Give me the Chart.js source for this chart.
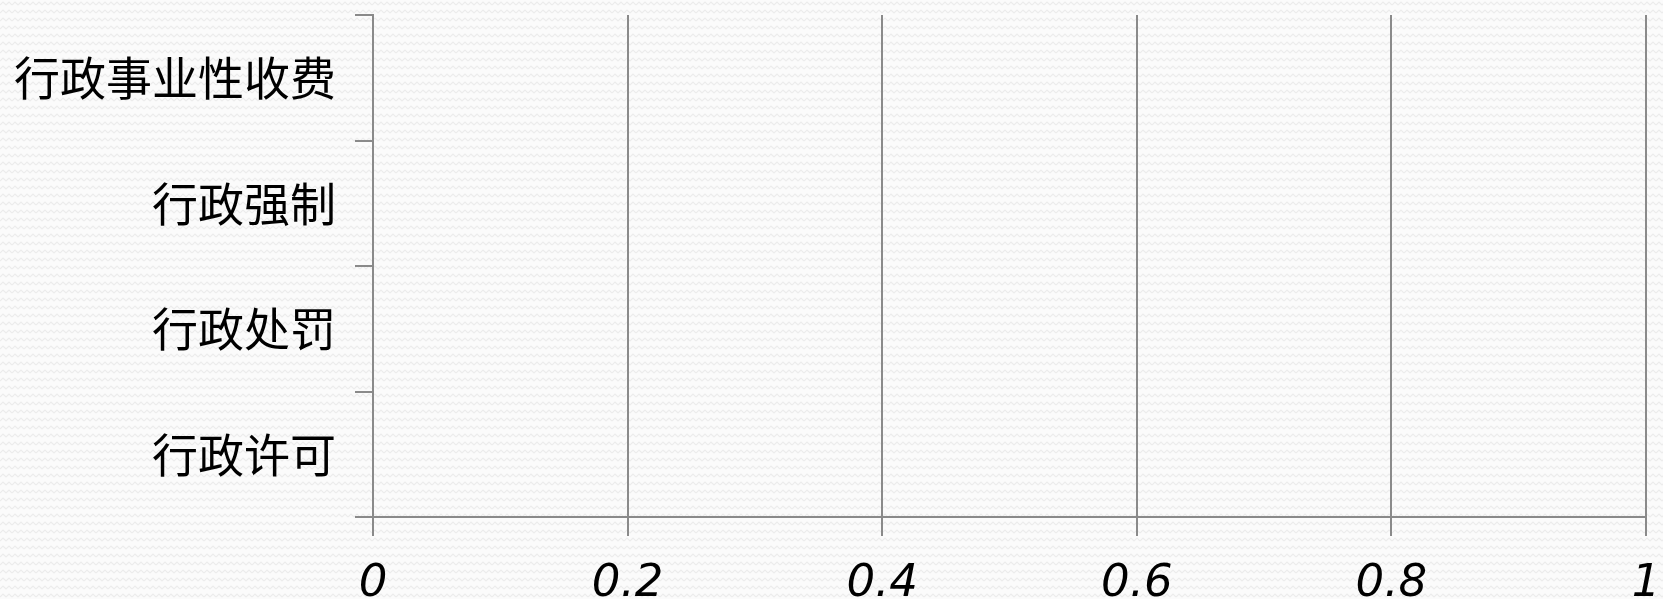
<!DOCTYPE html>
<html>
<head>
<meta charset="utf-8">
<script src="https://cdn.jsdelivr.net/npm/chart.js@4/dist/chart.umd.min.js"></script>
<style>
    html, body {
        margin: 0;
        padding: 0;
        background-color: #fbfbfb;
        background-image: url("data:image/svg+xml;utf8,<svg xmlns='http://www.w3.org/2000/svg' width='12' height='8'><path d='M0 5 L3 2 L6 5 L9 2 L12 5' fill='none' stroke='%23ececec' stroke-width='1.2'/></svg>");
        background-size: 12px 8px;
    }
    #wrap {
        position: relative;
        width: 1663px;
        height: 599px;
    }
</style>
</head>
<body>
<div id="wrap"><canvas id="chart"></canvas></div>
<script>
// Categories (bottom to top, as in the original sheet)
const categories = ['行政许可', '行政处罚', '行政强制', '行政事业性收费'];
// Series values: the chart is empty
const values = [0, 0, 0, 0];
// Value axis ticks
const tickValues = [0, 0.2, 0.4, 0.6, 0.8, 1];

const axisGray = '#8a8a8a';

const ctx = document.getElementById('chart');
new Chart(ctx, {
    type: 'bar',
    data: {
        labels: categories,
        datasets: [{
            label: '系列1',
            data: values,
            backgroundColor: '#4f81bd',
            borderWidth: 0
        }]
    },
    options: {
        indexAxis: 'y',
        responsive: true,
        maintainAspectRatio: false,
        animation: false,
        layout: {
            padding: { left: 0, top: 15, right: 17, bottom: 0 }
        },
        plugins: {
            legend: { display: false },
            tooltip: { enabled: false }
        },
        scales: {
            x: {
                min: tickValues[0],
                max: tickValues[tickValues.length - 1],
                afterBuildTicks: axis => {
                    axis.ticks = tickValues.map(v => ({ value: v }));
                },
                // fixed axis band, no extra room for the end labels
                afterFit: axis => {
                    axis.height = 82;
                    axis.paddingLeft = 0;
                    axis.paddingRight = 0;
                },
                border: { color: axisGray, width: 2 },
                grid: {
                    color: axisGray,
                    lineWidth: 2,
                    tickLength: 19,
                    tickColor: axisGray
                },
                ticks: {
                    padding: 26,
                    color: '#000',
                    maxRotation: 0,
                    font: { family: 'DejaVu Sans', style: 'italic', size: 45, lineHeight: 1 },
                    callback: v => String(Math.round(v * 10) / 10)
                }
            },
            y: {
                reverse: true,
                afterFit: axis => {
                    axis.width = 373;
                    axis.paddingTop = 0;
                    axis.paddingBottom = 0;
                },
                border: { color: axisGray, width: 2 },
                grid: {
                    drawOnChartArea: false,
                    color: axisGray,
                    lineWidth: 2,
                    tickLength: 18
                },
                ticks: {
                    padding: 19,
                    color: '#000',
                    font: { family: 'Noto Sans CJK SC', size: 46, lineHeight: 1 }
                }
            }
        }
    }
});
</script>
</body>
</html>
